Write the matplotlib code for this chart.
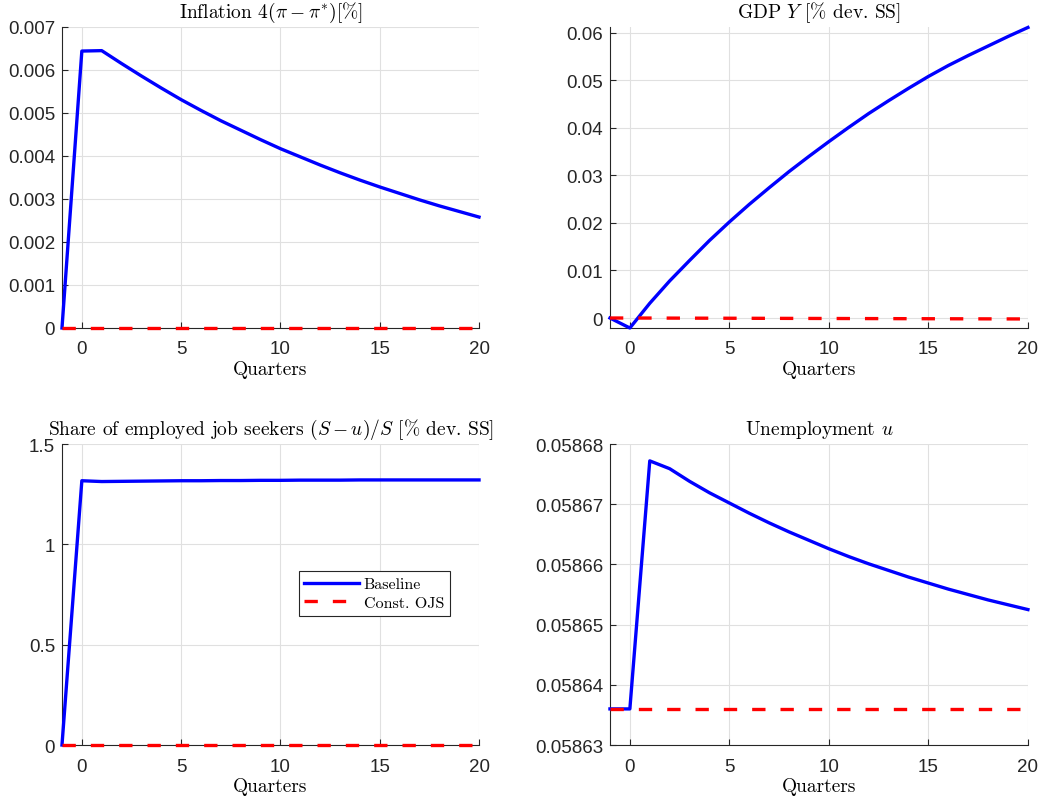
import numpy as np
import matplotlib
matplotlib.use('Agg')
import matplotlib.pyplot as plt
from matplotlib.ticker import FuncFormatter

plt.rcParams['font.family'] = ['Liberation Sans', 'DejaVu Sans']
plt.rcParams['mathtext.fontset'] = 'cm'
plt.rcParams['axes.unicode_minus'] = False

# quarters, -1 .. 20
quarters = list(range(-1, 21))

# Inflation 4(pi - pi*)
infl_base = [0.0, 0.00644, 0.00645, 0.00615, 0.00586, 0.00558, 0.00531, 0.00506, 0.00482,
             0.00460, 0.00438, 0.00417, 0.00398, 0.00379, 0.00361, 0.00344, 0.00328, 0.00313,
             0.00298, 0.00284, 0.00271, 0.00258]
infl_ojs = [0.0] * 22

# GDP Y
gdp_base = [0.0, -0.0021, 0.0031, 0.0078, 0.0121, 0.0163, 0.0202, 0.0239, 0.0274, 0.0308,
            0.0340, 0.0371, 0.0401, 0.0430, 0.0457, 0.0483, 0.0508, 0.0531, 0.0552, 0.0572,
            0.0592, 0.0611]
gdp_ojs = [0.0, 0.0, -0.00001, -0.00002, -0.00003, -0.00004, -0.00005, -0.00006, -0.00007,
           -0.00008, -0.00009, -0.0001, -0.00011, -0.00012, -0.00013, -0.00014, -0.00015,
           -0.00016, -0.00017, -0.00018, -0.00019, -0.0002]

# Share of employed job seekers
share_base = [0.0, 1.317, 1.313, 1.314, 1.315, 1.316, 1.317, 1.317, 1.318, 1.318, 1.319,
              1.319, 1.320, 1.320, 1.320, 1.321, 1.321, 1.321, 1.321, 1.321, 1.321, 1.321]
share_ojs = [0.0] * 22

# Unemployment u
unemp_base = [0.0586360, 0.0586360, 0.0586772, 0.0586759, 0.0586738, 0.0586719, 0.0586702,
              0.0586685, 0.0586669, 0.0586654, 0.0586640, 0.0586626, 0.0586613, 0.0586601,
              0.0586590, 0.0586579, 0.0586569, 0.0586559, 0.0586550, 0.0586541, 0.0586533,
              0.0586525]
unemp_ojs = [0.0586360] * 22

titles = [r'Inflation $4(\pi-\pi^{*})[\%]$',
          r'GDP $Y$ [% dev. SS]',
          r'Share of employed job seekers $(S-u)/S$ [% dev. SS]',
          r'Unemployment $u$']
base_series = [infl_base, gdp_base, share_base, unemp_base]
ojs_series = [infl_ojs, gdp_ojs, share_ojs, unemp_ojs]
ylims = [(0, 0.007), (-0.0021, 0.0612), (0, 1.5), (0.05863, 0.05868)]
yticks = [np.arange(0, 0.0071, 0.001), np.arange(0, 0.061, 0.01),
          [0, 0.5, 1, 1.5], [0.05863, 0.05864, 0.05865, 0.05866, 0.05867, 0.05868]]

fig = plt.figure(figsize=(10.4, 8.04), dpi=100)
positions = [[0.0596, 0.5908, 0.401, 0.3744], [0.5865, 0.5908, 0.4019, 0.3744],
             [0.0596, 0.0721, 0.401, 0.3744], [0.5865, 0.0721, 0.4019, 0.3744]]

dark = '#262626'
for i in range(4):
    ax = fig.add_axes(positions[i])
    ax.plot(quarters, base_series[i], color='#0000ff', lw=2.4, label='Baseline',
            clip_on=False, zorder=3)
    ax.plot(quarters, ojs_series[i], color='#ff0000', lw=2.4, dashes=(4, 4.5),
            label='Const. OJS', clip_on=False, zorder=3)
    ax.set_xlim(-1, 20)
    ax.set_ylim(*ylims[i])
    ax.set_xticks([0, 5, 10, 15, 20])
    ax.set_yticks(yticks[i])
    ax.yaxis.set_major_formatter(FuncFormatter(lambda v, p: '%g' % round(v, 6)))
    ax.grid(True, color='#e0e0e0', lw=0.8)
    ax.set_axisbelow(True)
    for s in ['top', 'right']:
        ax.spines[s].set_visible(False)
    for s in ['left', 'bottom']:
        ax.spines[s].set_color(dark)
        ax.spines[s].set_linewidth(0.8)
    ax.tick_params(direction='in', length=4, width=0.8, colors=dark, labelsize=13.5,
                   labelcolor=dark)
    ax.tick_params(axis='x', pad=9)
    ax.tick_params(axis='y', pad=5)
    ax.set_title(titles[i], fontfamily='cmr10', fontsize=14, pad=7)
    ax.set_xlabel('Quarters', fontfamily='cmr10', fontsize=14, labelpad=2)
    if i == 2:
        leg = ax.legend(loc='upper left', bbox_to_anchor=(0.568, 0.577), borderaxespad=0,
                        prop={'family': 'cmr10', 'size': 11.5}, handlelength=3.4,
                        fancybox=False, framealpha=1, edgecolor=dark,
                        borderpad=0.35, labelspacing=0.3, handletextpad=0.3)
        leg.get_frame().set_linewidth(0.8)

fig.savefig('out.png', dpi=100)
